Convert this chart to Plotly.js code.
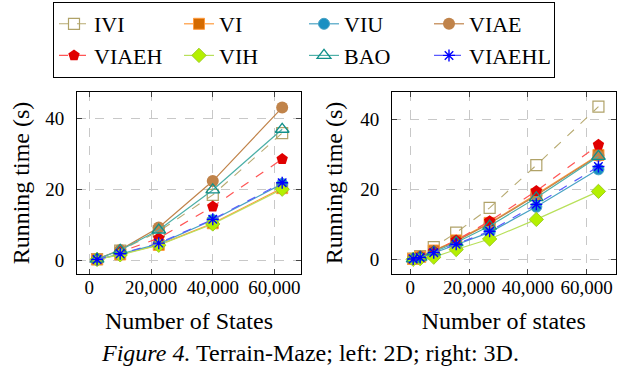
<!DOCTYPE html>
<html>
<head>
<meta charset="utf-8">
<script src="https://cdn.plot.ly/plotly-3.0.1.min.js"></script>
<style>html,body{margin:0;padding:0;background:#fff;}#chart{width:617px;height:372px;}</style>
</head>
<body>
<div id="chart"></div>
<script>
// ---- data ----
const seriesNames = ["IVI", "VI", "VIU", "VIAE", "VIAEH", "VIH", "BAO", "VIAEHL"];

const states2D = [2500, 10000, 22500, 40000, 62500];
const ivi2D    = [0.3, 2.7, 8.1, 18.4, 35.8];
const vi2D     = [0.2, 1.6, 4.3, 10.4, 20.3];
const viu2D    = [0.2, 1.7, 4.6, 11.3, 21.5];
const viae2D   = [0.3, 2.9, 9.2, 22.3, 43.0];
const viaeh2D  = [0.3, 2.3, 6.2, 15.1, 28.5];
const vih2D    = [0.2, 1.5, 4.2, 10.2, 20.0];
const bao2D    = [0.3, 2.8, 8.5, 19.8, 36.9];
const viaehl2D = [0.2, 1.8, 4.8, 11.5, 21.8];

const states3D = [1000, 3375, 8000, 15625, 27000, 42875, 64000];
const ivi3D    = [0.3, 1.0, 3.6, 7.7, 14.8, 27.0, 43.7];
const vi3D     = [0.2, 0.8, 2.6, 5.5, 10.5, 18.7, 29.9];
const viu3D    = [0.2, 0.6, 1.9, 4.3, 7.8, 15.1, 25.8];
const viae3D   = [0.2, 0.8, 2.5, 5.3, 10.3, 18.4, 29.7];
const viaeh3D  = [0.2, 0.9, 2.4, 5.5, 11.0, 19.6, 32.8];
const vih3D    = [0.1, 0.3, 0.7, 2.9, 5.9, 11.5, 19.5];
const bao3D    = [0.2, 0.7, 2.2, 4.9, 9.6, 17.7, 29.5];
const viaehl3D = [0.2, 0.6, 2.0, 4.4, 8.1, 15.8, 26.6];

const yTickVals = [0, 20, 40];
const xTickVals = [0, 20000, 40000, 60000];
const xTickText = ["0", "20,000", "40,000", "60,000"];

// ---- styles ----
const styles = {
  IVI:    {line: {color: "#b8ab72", width: 1.1, dash: "dash"}, marker: {symbol: "square-open", size: 11, color: "#b0a268", line: {width: 1.2}}},
  VI:     {line: {color: "#ff9a3c", width: 1.2}, marker: {symbol: "square", size: 11, color: "#d46a00", line: {color: "#ff9a3c", width: 1}}},
  VIU:    {line: {color: "#4aa3c4", width: 1.2}, marker: {symbol: "circle", size: 11, color: "#1a90c2", line: {color: "#4aa3c4", width: 1}}},
  VIAE:   {line: {color: "#c0834a", width: 1.2}, marker: {symbol: "circle", size: 12, color: "#c0834a", line: {width: 0}}},
  VIAEH:  {line: {color: "#ff5555", width: 1.2, dash: "dash"}, marker: {symbol: "pentagon", size: 12, color: "#e00000", line: {width: 0}}},
  VIH:    {line: {color: "#b8e05a", width: 1.2}, marker: {symbol: "diamond", size: 11, color: "#b4f000", line: {color: "#9ccc20", width: 1}}},
  BAO:    {line: {color: "#4db0a8", width: 1.2}, marker: {symbol: "triangle-up-open", size: 12, color: "#10908a", line: {width: 1.3}}},
  VIAEHL: {line: {color: "#5a5aff", width: 1.2, dash: "dash"}, marker: {symbol: "asterisk-open", size: 10, color: "#0000ff", line: {color: "#0000ff", width: 1.4}}}
};

const data2D = [ivi2D, vi2D, viu2D, viae2D, viaeh2D, vih2D, bao2D, viaehl2D];
const data3D = [ivi3D, vi3D, viu3D, viae3D, viaeh3D, vih3D, bao3D, viaehl3D];

const traces = [];
seriesNames.forEach((name, i) => {
  traces.push({
    type: "scatter", mode: "lines+markers", name: name,
    x: states2D, y: data2D[i], xaxis: "x", yaxis: "y",
    line: styles[name].line, marker: styles[name].marker,
    showlegend: true
  });
});
seriesNames.forEach((name, i) => {
  traces.push({
    type: "scatter", mode: "lines+markers", name: name,
    x: states3D, y: data3D[i], xaxis: "x2", yaxis: "y2",
    line: styles[name].line, marker: styles[name].marker,
    showlegend: false
  });
});

const serif = "Liberation Serif";
const axisCommon = {
  showline: true, linecolor: "#000", linewidth: 1, mirror: "ticks",
  ticks: "inside", ticklen: 5, tickcolor: "#444", tickwidth: 1,
  showgrid: true, gridcolor: "#c8c8c8", griddash: "dash", gridwidth: 1,
  zeroline: false, tickfont: {family: serif, size: 19, color: "#000"}
};

const H = 372, W = 617;
const yDom = [(H - 274) / H, (H - 92) / H];
const titleFont = {family: serif, size: 24, color: "#000"};

const layout = {
  width: W, height: H,
  margin: {l: 0, r: 0, t: 0, b: 0},
  paper_bgcolor: "#fff", plot_bgcolor: "#fff",
  font: {family: serif, color: "#000"},
  showlegend: true,
  legend: {
    orientation: "h", x: 53 / W, y: 1 - 2 / H, xanchor: "left", yanchor: "top",
    bordercolor: "#000", borderwidth: 1, bgcolor: "#fff",
    font: {family: serif, size: 22, color: "#000"},
    itemwidth: 30, entrywidth: 80, entrywidthmode: "pixels",
    traceorder: "normal", tracegroupgap: 0
  },
  xaxis: Object.assign({}, axisCommon, {
    domain: [77 / W, 301 / W], range: [-4000, 68600], anchor: "y",
    tickvals: xTickVals, ticktext: xTickText, ticklabelstandoff: -4,
    title: {text: "Number of States", font: titleFont, standoff: 15}
  }),
  yaxis: Object.assign({}, axisCommon, {
    domain: yDom, range: [-3.9, 47.4], anchor: "x",
    tickvals: yTickVals, ticklabelstandoff: 8,
    title: {text: "Running time (s)", font: titleFont, standoff: 8}
  }),
  xaxis2: Object.assign({}, axisCommon, {
    domain: [392 / W, 615.5 / W], range: [-6200, 69800], anchor: "y2",
    tickvals: xTickVals, ticktext: xTickText, ticklabelstandoff: -4,
    title: {text: "Number of states", font: titleFont, standoff: 15}
  }),
  yaxis2: Object.assign({}, axisCommon, {
    domain: yDom, range: [-4.1, 47.9], anchor: "x2",
    tickvals: yTickVals, ticklabelstandoff: 8,
    title: {text: "Running time (s)", font: titleFont, standoff: 10}
  }),
  annotations: [{
    xref: "paper", yref: "paper", x: 310 / W, y: (H - 353) / H,
    xanchor: "center", yanchor: "middle", showarrow: false,
    text: "<i>Figure 4.</i> Terrain-Maze; left: 2D; right: 3D.",
    font: titleFont
  }]
};

Plotly.newPlot("chart", traces, layout, {displayModeBar: false, staticPlot: true});
</script>
</body>
</html>
